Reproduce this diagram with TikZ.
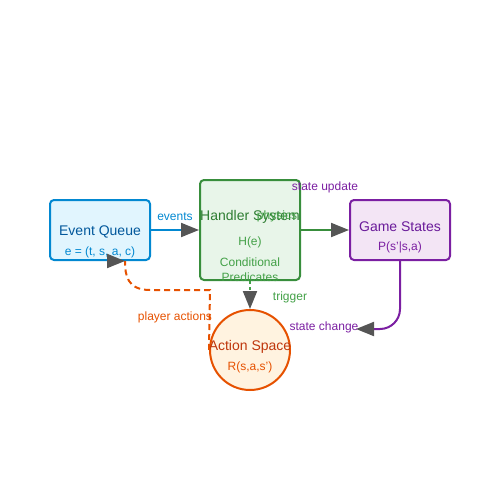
\documentclass[tikz,border=0pt]{standalone}
\usepackage{fontspec}
\setmainfont{Liberation Sans}
\usetikzlibrary{arrows.meta}
\definecolor{queueline}{HTML}{0288D1}
\definecolor{queuefill}{HTML}{E1F5FE}
\definecolor{queuetext}{HTML}{01579B}
\definecolor{handlerline}{HTML}{388E3C}
\definecolor{handlerfill}{HTML}{E8F5E9}
\definecolor{handlertext}{HTML}{2E7D32}
\definecolor{handlersub}{HTML}{43A047}
\definecolor{gameline}{HTML}{7B1FA2}
\definecolor{gamefill}{HTML}{F3E5F5}
\definecolor{gametext}{HTML}{6A1B9A}
\definecolor{actionline}{HTML}{E65100}
\definecolor{actionfill}{HTML}{FFF3E0}
\definecolor{actiontext}{HTML}{BF360C}
\definecolor{tipgray}{HTML}{555555}

\begin{document}
\begin{tikzpicture}[x=1pt, y=-1pt,
    box/.style={draw, line width=2pt, rounded corners=4pt, inner sep=0pt},
    flow/.style={line width=2pt, -{Triangle[length=18pt, width=14pt, color=tipgray]}},
    big/.style={font=\fontsize{14}{16}\selectfont, inner sep=0pt, yshift=-1.5pt},
    small/.style={font=\fontsize{12}{14}\selectfont, inner sep=0pt, yshift=-1.5pt}]
    \useasboundingbox (0,0) rectangle (500,500);

    % Draw the boxes
    \node[box, draw=queueline, fill=queuefill, minimum width=100pt, minimum height=60pt] (queue) at (100,230) {};
    \node[box, draw=handlerline, fill=handlerfill, minimum width=100pt, minimum height=100pt] (handler) at (250,230) {};
    \node[box, draw=gameline, fill=gamefill, minimum width=100pt, minimum height=60pt] (game) at (400,230) {};
    \node[circle, draw=actionline, fill=actionfill, line width=2pt, minimum size=80pt, inner sep=0pt] (action) at (250,350) {};

    % Box texts
    \node[big, text=queuetext] (queuename) at (100,230) {Event Queue};
    \node[small, text=queueline] (queueform) at (100,251) {e = (t, s, a, c)};
    \node[big, text=handlertext] (handlername) at (250,215) {Handler System};
    \node[small, text=handlersub] (handlerform) at (250,241) {H(e)};
    \node[small, text=handlersub] (handlercond) at (250,261) {Conditional};
    \node[small, text=handlersub] (handlerpred) at (250,276) {Predicates};
    \node[big, text=gametext] (gamename) at (400,225) {Game States};
    \node[small, text=gameline] (gameform) at (400,246) {P(s'|s,a)};
    \node[big, text=actiontext] (actionname) at (250,345) {Action Space};
    \node[small, text=actionline] (actionform) at (250,366) {R(s,a,s')};

    % Connectors
    \coordinate (changeend) at (356,329);
    \coordinate (playertip) at (125,261);
    \draw[flow, queueline] (queue.east) -- (handler.west);
    \draw[flow, handlerline] (handler.east) -- (game.west);
    \draw[flow, handlersub, dash pattern=on 3pt off 3pt] (handler.south) -- (action.north);
    \draw[flow, gameline, rounded corners=20pt] (game.south) |- (changeend);
    \draw[actionline, line width=2pt, dash pattern=on 6pt off 4pt] (action.west) -- (210,290) -- (150,290)
        .. controls (127,290) and (125,275) .. (playertip);
    \draw[flow, actionline] ([xshift=-18pt]playertip) -- (playertip);

    % Labels
    \node[small, text=queueline] (eventslabel) at (175,215) {events};
    \node[small, text=handlersub] (physicslabel) at (277,215) {physics};
    \node[small, text=gameline] (updatelabel) at (325,186) {state update};
    \node[small, text=handlersub] (triggerlabel) at (290,296) {trigger};
    \node[small, text=actionline] (playerlabel) at (175,316) {player actions};
    \node[small, text=gameline] (changelabel) at (324,326) {state change};
\end{tikzpicture}
\end{document}
